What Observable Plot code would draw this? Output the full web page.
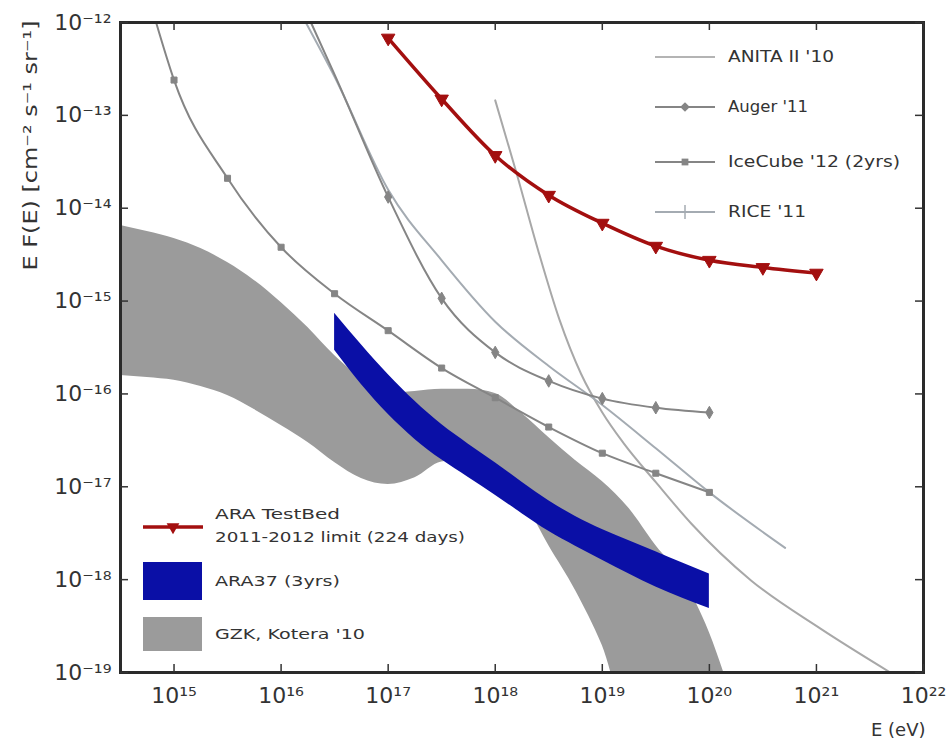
<!DOCTYPE html>
<html>
<head>
<meta charset="utf-8">
<script src="https://cdn.jsdelivr.net/npm/d3@7"></script>
<script src="https://cdn.jsdelivr.net/npm/@observablehq/plot@0.6"></script>
<style>
  html, body { margin: 0; padding: 0; background: #fff; }
  #chart { width: 947px; height: 754px; }
</style>
</head>
<body>
<div id="chart"></div>
<script>
// ---------- data ----------
// IceCube '12 (2yrs)
const E_ice = [6.8e14, 1e15, 3.16e15, 1e16, 3.16e16, 1e17, 3.16e17, 1e18, 3.16e18, 1e19, 3.16e19, 1e20];
const F_ice = [1e-12, 2.4e-13, 2.1e-14, 3.8e-15, 1.2e-15, 4.8e-16, 1.9e-16, 9.1e-17, 4.4e-17, 2.3e-17, 1.4e-17, 8.7e-18];
// Auger '11
const E_aug = [1.9e16, 3.16e16, 1e17, 3.16e17, 1e18, 3.16e18, 1e19, 3.16e19, 1e20];
const F_aug = [1e-12, 2.75e-13, 1.32e-14, 1.07e-15, 2.8e-16, 1.38e-16, 8.9e-17, 7.1e-17, 6.3e-17];
// RICE '11
const E_rice = [1.7e16, 3.16e16, 1e17, 3.16e17, 1e18, 3.16e18, 1e19, 3.16e19, 1e20, 5.1e20];
const F_rice = [1e-12, 2.6e-13, 1.58e-14, 2.75e-15, 6.0e-16, 2.0e-16, 7.6e-17, 2.6e-17, 8.7e-18, 2.2e-18];
// ANITA II '10
const E_anita = [1e18, 1.58e18, 2.51e18, 3.98e18, 6.31e18, 1e19, 1.58e19, 3.16e19, 6.8e19, 2.45e20, 1.1e21, 4.9e21];
const F_anita = [1.45e-13, 2.40e-14, 3.55e-15, 6.31e-16, 1.66e-16, 6.31e-17, 2.95e-17, 1.12e-17, 4.0e-18, 9.8e-19, 2.95e-19, 1.0e-19];
// ARA TestBed 2011-2012 limit (224 days)
const E_ara = [1e17, 3.16e17, 1e18, 3.16e18, 1e19, 3.16e19, 1e20, 3.16e20, 1e21];
const F_ara = [6.8e-13, 1.5e-13, 3.7e-14, 1.38e-14, 6.9e-15, 3.9e-15, 2.75e-15, 2.3e-15, 2.0e-15];
// ARA37 (3yrs) band
const E_ara37 = [3.16e16, 5.62e16, 1e17, 1.78e17, 3.16e17, 5.62e17, 1e18, 1.78e18, 3.16e18, 5.62e18, 1e19, 1.78e19, 3.16e19, 5.62e19, 1e20];
const F_ara37_hi = [7.41e-16, 3.39e-16, 1.62e-16, 8.32e-17, 4.68e-17, 2.88e-17, 1.82e-17, 1.12e-17, 7.08e-18, 4.79e-18, 3.47e-18, 2.63e-18, 2.0e-18, 1.51e-18, 1.15e-18];
const F_ara37_lo = [2.95e-16, 1.26e-16, 6.03e-17, 3.24e-17, 1.95e-17, 1.26e-17, 8.13e-18, 5.13e-18, 3.31e-18, 2.29e-18, 1.62e-18, 1.15e-18, 8.32e-19, 6.31e-19, 4.90e-19];
// GZK, Kotera '10 band
const E_gzk = [3.16e14, 5.62e14, 1e15, 1.78e15, 3.16e15, 5.62e15, 1e16, 1.78e16, 3.16e16, 5.62e16, 1e17, 1.78e17, 3.16e17, 5.62e17, 1e18, 1.78e18, 3.16e18, 5.62e18, 1e19, 1.78e19, 3.16e19, 5.62e19, 1e20, 1.41e20];
const F_gzk_hi = [6.52e-15, 5.61e-15, 4.72e-15, 3.68e-15, 2.60e-15, 1.67e-15, 9.66e-16, 5.19e-16, 2.59e-16, 1.47e-16, 1.01e-16, 1.06e-16, 1.12e-16, 1.12e-16, 1.01e-16, 6.15e-17, 3.40e-17, 1.92e-17, 1.14e-17, 5.83e-18, 2.33e-18, 1.03e-18, 2.70e-19, 8.9e-20];
const F_gzk_lo = [1.58e-16, 1.50e-16, 1.40e-16, 1.20e-16, 9.62e-17, 6.79e-17, 4.57e-17, 3.00e-17, 1.83e-17, 1.23e-17, 1.06e-17, 1.25e-17, 1.85e-17, 1.95e-17, 1.32e-17, 7.48e-18, 2.33e-18, 7.64e-19, 1.95e-19, 3.2e-20, 3.2e-20, 3.2e-20, 3.2e-20, 3.2e-20];

const xTicks = [1e15, 1e16, 1e17, 1e18, 1e19, 1e20, 1e21, 1e22];
const yTicks = [1e-19, 1e-18, 1e-17, 1e-16, 1e-15, 1e-14, 1e-13, 1e-12];
const legendTop = ["ANITA II '10", "Auger '11", "IceCube '12 (2yrs)", "RICE '11"];
const legendBottom = [["ARA TestBed", "2011-2012 limit (224 days)"], ["ARA37 (3yrs)"], ["GZK, Kotera '10"]];
const xLabel = "E (eV)";
const yLabel = "E F(E) [cm\u207B\u00B2 s\u207B\u00B9 sr\u207B\u00B9]";

// ---------- tables ----------
const zip = (E, F) => E.map((e, i) => ({E: e, F: F[i], i}));
const ice = zip(E_ice, F_ice);
const aug = zip(E_aug, F_aug);
const rice = zip(E_rice, F_rice);
const anita = zip(E_anita, F_anita);
const ara = zip(E_ara, F_ara);
const ara37 = E_ara37.map((e, i) => ({E: e, hi: F_ara37_hi[i], lo: F_ara37_lo[i]}));
const gzk = E_gzk.map((e, i) => ({E: e, hi: F_gzk_hi[i], lo: F_gzk_lo[i]}));

const supMap = {"-": "\u207B", "0": "\u2070", "1": "\u00B9", "2": "\u00B2", "3": "\u00B3", "4": "\u2074", "5": "\u2075", "6": "\u2076", "7": "\u2077", "8": "\u2078", "9": "\u2079"};
const fmt = d => "10" + String(Math.round(Math.log10(d))).split("").map(c => supMap[c]).join("");

const GRAY = "#858585";
const LIGHT = "#a8a8a8";
const RICEC = "#a4abb2";
const RED = "#a30f0f";
const BLUE = "#0a0fa6";
const GZKC = "#9b9b9b";

const plot = Plot.plot({
  width: 947,
  height: 754,
  marginLeft: 120,
  marginRight: 24,
  marginTop: 22,
  marginBottom: 82,
  style: {fontFamily: "'DejaVu Sans', sans-serif", fontSize: "19px", background: "#fff", color: "#333"},
  x: {type: "log", domain: [3.1623e14, 1e22]},
  y: {type: "log", domain: [1e-19, 1e-12]},
  marks: [
    Plot.areaY(gzk, {x: "E", y1: "lo", y2: "hi", fill: GZKC, curve: "monotone-x", clip: true}),
    Plot.areaY(ara37, {x: "E", y1: "lo", y2: "hi", fill: BLUE, curve: "monotone-x", clip: true}),
    Plot.line(anita, {x: "E", y: "F", stroke: LIGHT, strokeWidth: 2, curve: "monotone-x", clip: true}),
    Plot.line(rice, {x: "E", y: "F", stroke: RICEC, strokeWidth: 2, curve: "monotone-x", clip: true}),
    Plot.line(aug, {x: "E", y: "F", stroke: GRAY, strokeWidth: 2, curve: "monotone-x", clip: true}),
    Plot.dot(aug.filter(d => d.i >= 2), {x: "E", y: "F", symbol: "diamond", r: 3.8, fill: GRAY, stroke: GRAY, strokeWidth: 1}),
    Plot.line(ice, {x: "E", y: "F", stroke: GRAY, strokeWidth: 2, curve: "monotone-x", clip: true}),
    Plot.dot(ice.filter(d => d.i >= 1), {x: "E", y: "F", symbol: "square", r: 3.4, fill: GRAY, stroke: GRAY, strokeWidth: 1}),
    Plot.line(ara, {x: "E", y: "F", stroke: RED, strokeWidth: 3.5, curve: "monotone-x", clip: true}),
    Plot.dot(ara, {x: "E", y: "F", symbol: "triangle", rotate: 180, r: 5, fill: RED, stroke: RED, strokeWidth: 1}),
    Plot.frame({stroke: "#2a2a2a", strokeWidth: 3}),
    Plot.tickX(xTicks, {x: d => d, insetTop: 642, stroke: "#333", strokeWidth: 1.5}),
    Plot.tickX(xTicks, {x: d => d, insetBottom: 642, stroke: "#333", strokeWidth: 1.5}),
    Plot.tickY(yTicks, {y: d => d, insetRight: 795, stroke: "#333", strokeWidth: 1.5}),
    Plot.tickY(yTicks, {y: d => d, insetLeft: 795, stroke: "#333", strokeWidth: 1.5}),
    Plot.axisX({ticks: xTicks, tickSize: 0, tickPadding: 15, tickFormat: fmt, label: null, fontSize: 22}),
    Plot.axisY({ticks: yTicks, tickSize: 0, tickPadding: 9, tickFormat: fmt, label: null, fontSize: 22}),
    Plot.text([xLabel], {frameAnchor: "bottom-right", dx: 2, dy: 63, textAnchor: "end", fontSize: 18, fill: "#333"}),
    Plot.text([yLabel], {frameAnchor: "top-left", rotate: -90, textAnchor: "end", dx: -97, dy: -2, fontSize: 19, fill: "#333", className: "ylab"})
  ]
});

document.getElementById("chart").appendChild(plot);

// stretch y label to the reference length
d3.select(plot).selectAll(".ylab text").attr("textLength", 250).attr("lengthAdjust", "spacingAndGlyphs");

// ---------- legends ----------
const svg = d3.select(plot);
const lg = svg.append("g").attr("font-family", "'DejaVu Sans', sans-serif").attr("fill", "#333").attr("text-anchor", "start");

const topRows = [57, 107, 162, 212];
const topStyles = [
  {stroke: "#b4b4b4", marker: null, len: 106},
  {stroke: GRAY, marker: "diamond", len: 80},
  {stroke: GRAY, marker: "square", len: 172},
  {stroke: RICEC, marker: "tick", len: 78}
];
legendTop.forEach((name, i) => {
  const y = topRows[i], s = topStyles[i];
  lg.append("line").attr("x1", 655).attr("x2", 715).attr("y1", y).attr("y2", y)
    .attr("stroke", s.stroke).attr("stroke-width", 2);
  if (s.marker === "diamond") {
    lg.append("path").attr("d", d3.symbol(d3.symbolDiamond2, 60)()).attr("transform", `translate(685,${y})`).attr("fill", GRAY);
  } else if (s.marker === "square") {
    lg.append("path").attr("d", d3.symbol(d3.symbolSquare, 46)()).attr("transform", `translate(685,${y})`).attr("fill", GRAY);
  } else if (s.marker === "tick") {
    lg.append("line").attr("x1", 685).attr("x2", 685).attr("y1", y - 7).attr("y2", y + 7).attr("stroke", RICEC).attr("stroke-width", 1.5);
  }
  lg.append("text").attr("x", 728).attr("y", y).attr("dy", "0.35em").attr("font-size", 15).attr("text-anchor", "start")
    .attr("textLength", s.len).attr("lengthAdjust", "spacingAndGlyphs").text(name);
});

// bottom-left legend
const addText = (x, y, len, t) => lg.append("text").attr("x", x).attr("y", y).attr("dy", "0.35em").attr("font-size", 14)
  .attr("text-anchor", "start").attr("textLength", len).attr("lengthAdjust", "spacingAndGlyphs").text(t);
lg.append("line").attr("x1", 143).attr("x2", 203).attr("y1", 527).attr("y2", 527).attr("stroke", RED).attr("stroke-width", 3.5);
lg.append("path").attr("d", d3.symbol(d3.symbolTriangle, 70)()).attr("transform", "translate(173,527) rotate(180)").attr("fill", RED);
addText(215, 514, 125, legendBottom[0][0]);
addText(215, 537, 250, legendBottom[0][1]);
lg.append("rect").attr("x", 143).attr("y", 562).attr("width", 59).attr("height", 38).attr("fill", BLUE);
addText(215, 581, 125, legendBottom[1][0]);
lg.append("rect").attr("x", 143).attr("y", 617).attr("width", 59).attr("height", 34).attr("fill", GZKC);
addText(215, 634, 150, legendBottom[2][0]);
</script>
</body>
</html>
